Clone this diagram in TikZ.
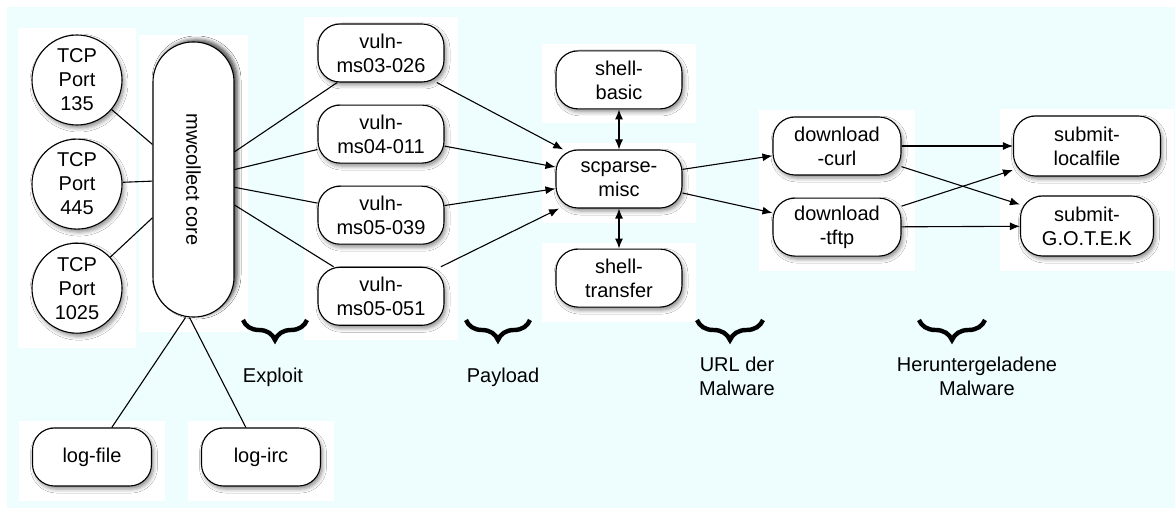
\documentclass[tikz,border=0pt]{standalone}
\usepackage{fontspec}
\setmainfont{Liberation Sans}
\usepackage{tikz}
\usetikzlibrary{arrows,arrows.meta,shapes}
\usetikzlibrary{backgrounds,fit}
\usetikzlibrary{calc,positioning}
\usetikzlibrary{decorations.pathreplacing,shadows.blur}

\definecolor{bgcyan}{RGB}{238,254,255}

\begin{document}
\begin{tikzpicture}[x=0.5pt,y=-0.5pt,line width=0.55pt,>={Latex[length=5pt,width=4pt]},font=\fontsize{10}{12}\selectfont]
    \tikzstyle{shadowed}=[blur shadow={shadow xshift=1pt, shadow yshift=-1.5pt, shadow blur radius=2pt, shadow opacity=45}]
    \tikzstyle{port}=[circle, minimum size=45pt, inner sep=0pt, draw, fill=white, align=center, shadowed]
    \tikzstyle{module}=[rectangle, rounded corners=11pt, minimum width=63pt, minimum height=29pt, draw, fill=white, align=center, shadowed]
    \tikzstyle{panel}=[fill=white, inner xsep=6.5pt, inner ysep=5pt, yshift=-2pt]
    \tikzstyle{phase}=[decorate, decoration={brace, mirror, amplitude=10pt}, line width=2.2pt]

    \useasboundingbox (0,0) rectangle (1175,508);

    % ports and core
    \node[port]          (p135) at (77,80) {TCP\\Port\\135};
    \node[port]          (p445) [below=6.5pt of p135] {TCP\\Port\\445};
    \node[port]          (p1025) [below=6.5pt of p445] {TCP\\Port\\1025};

    \node[module, rotate=-90, minimum width=137.5pt, minimum height=40.5pt, rounded corners=20pt,
          blur shadow={shadow xshift=1.5pt, shadow yshift=1pt, shadow blur radius=2pt, shadow opacity=45}]
                         (core) at (193.5,179.5) {mwcollect core};

    % exploits
    \node[module]        (v1) at (381,53) {vuln-\\ms03-026};
    \node[module]        (v2) [below=11pt of v1] {vuln-\\ms04-011};
    \node[module]        (v3) [below=11pt of v2] {vuln-\\ms05-039};
    \node[module]        (v4) [below=11pt of v3] {vuln-\\ms05-051};

    % shellcode
    \node[module]        (scparse) at (619,179) {scparse-\\misc};
    \node[module]        (basic) [above=20pt of scparse] {shell-\\basic};
    \node[module]        (transfer) [below=20pt of scparse] {shell-\\transfer};

    % download and submit
    \node[module, minimum width=64pt] (curl) at (837,146) {download\\-curl};
    \node[module, minimum width=64pt] (tftp) [below=11pt of curl] {download\\-tftp};
    \node[module, minimum width=73.5pt, minimum height=30pt] (localfile) at (1087,146) {submit-\\localfile};
    \node[module, minimum width=66.5pt, minimum height=30pt] (gotek) at (1087,226) {submit-\\G.O.T.E.K};

    % logging
    \node[module, minimum width=59.5pt] (logfile) at (92,457) {log-file};
    \node[module, minimum width=59.5pt] (logirc) at (261,457) {log-irc};

    % labels
    \node (exploit) at (273,377) {Exploit};
    \node (payload) at (503,377) {Payload};
    \node[align=center] (url) at (737,376) {URL der\\Malware};
    \node[align=center] (loaded) at (977,376) {Heruntergeladene\\Malware};

    \draw[phase] (243,320) -- (307,320);
    \draw[phase] (466,320) -- (530,320);
    \draw[phase] (697,320) -- (763,320);
    \draw[phase] (919,320) -- (985,320);

    % connections
    \foreach \p in {p135,p445,p1025}
        \draw (\p) -- (core);
    \foreach \v in {v1,v2,v3,v4} {
        \draw (core) -- (\v);
        \draw[->] (\v) -- (scparse);
    }
    \draw[<->] (basic) -- (scparse);
    \draw[<->] (scparse) -- (transfer);
    \draw[->] (scparse) -- (curl);
    \draw[->] (scparse) -- (tftp);
    \draw[->] (curl) -- (localfile);
    \draw[->] (curl) -- (gotek);
    \draw[->] (tftp) -- (localfile);
    \draw[->] (tftp) -- (gotek);
    \draw ([xshift=-4pt]core.east) -- (logfile);
    \draw ([xshift=-2pt]core.east) -- (logirc);

    \begin{scope}[on background layer]
        \fill[bgcyan] (7,7) rectangle (1175,508);
        \node[panel, fit=(p135)(p1025)] {};
        \node[panel, fit=(core)] {};
        \node[panel, fit=(v1)(v4)] {};
        \node[panel, fit=(basic)] {};
        \node[panel, fit=(scparse)] {};
        \node[panel, fit=(transfer)] {};
        \node[panel, fit=(curl)(tftp)] {};
        \node[panel, fit=(localfile)(gotek)] {};
        \node[panel, fit=(logfile)] {};
        \node[panel, fit=(logirc)] {};
    \end{scope}

\end{tikzpicture}
\end{document}
